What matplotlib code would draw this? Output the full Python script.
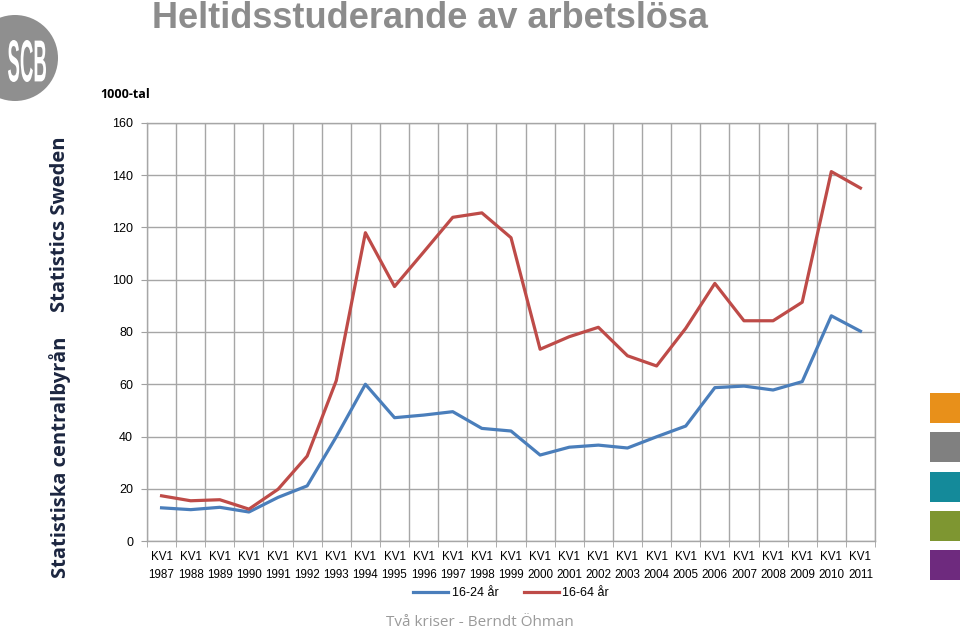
#!/usr/bin/python
'''
Heltidsstuderande av arbetslösa, 16-24 and 16-64 years, KV1 1987-2011.
'''

import numpy as np
import matplotlib
matplotlib.use('Agg')
import matplotlib.pyplot as plt
from matplotlib.patches import Circle, Rectangle, PathPatch
from matplotlib.textpath import TextPath
from matplotlib.font_manager import FontProperties
from matplotlib.transforms import Affine2D

years = list(range(1987, 2012))
quarter = 'KV1'
ung = [12.7, 12.0, 12.9, 11.1, 16.7, 21.1, 39.9, 60.0, 47.2, 48.2, 49.5, 43.1, 42.1,
       32.9, 35.9, 36.7, 35.6, 39.9, 44.0, 58.7, 59.3, 57.8, 61.0, 86.2, 80.3]
alla = [17.3, 15.4, 15.8, 12.2, 19.8, 32.5, 61.4, 118.0, 97.4, 110.6, 123.9, 125.6, 116.1,
        73.4, 78.2, 81.8, 70.9, 67.0, 81.4, 98.6, 84.3, 84.3, 91.4, 141.4, 135.1]
series_names = ['16-24 år', '16-64 år']
side_colors = ['#E8901A', '#808080', '#148A9A', '#7E9631', '#6E2A7E']

W, H = 960, 630
fig = plt.figure(figsize=(W / 100, H / 100), dpi=100)

# decoration layer in pixel coordinates (y downwards)
bg = fig.add_axes([0, 0, 1, 1])
bg.set_xlim(0, W)
bg.set_ylim(H, 0)
bg.axis('off')
bg.add_patch(Circle((15, 58), 43, color='#8f8f8f', lw=0))

# logo letters squeezed into a tall narrow box
tp = TextPath((0, 0), 'SCB', size=10, prop=FontProperties(family='Liberation Sans', weight='bold'))
ext = tp.get_extents()
box = (8, 40, 46, 82)   # x0, y0, x1, y1 in pixels
sx = (box[2] - box[0]) / ext.width
sy = (box[3] - box[1]) / ext.height
tr = Affine2D().translate(-ext.x0, -ext.y0).scale(sx, -sy).translate(box[0], box[3])
bg.add_patch(PathPatch(tr.transform_path(tp), color='white', lw=0))

bg.text(430, 18, 'Heltidsstuderande av arbetslösa', color='#8c8c8c', fontsize=26,
        fontweight='bold', ha='center', va='center', family='Liberation Sans')
bg.text(60, 578, 'Statistiska centralbyrån', rotation=90, fontsize=14.5,
        fontweight='bold', color='#1c2640', ha='center', va='bottom', family='Open Sans')
bg.text(60, 312, 'Statistics Sweden', rotation=90, fontsize=14.5,
        fontweight='bold', color='#1c2640', ha='center', va='bottom', family='Open Sans')
bg.text(100, 94, '1000-tal', fontsize=9, fontweight='bold', ha='left', va='center',
        family='Open Sans')
bg.text(480, 622, 'Två kriser - Berndt Öhman', fontsize=11, color='#9a9a9a',
        ha='center', va='center', family='Open Sans')
for i, c in enumerate(side_colors):
    bg.add_patch(Rectangle((930, 393 + i * 39.3), 30, 30, color=c, lw=0))

ax = fig.add_axes([147 / W, 1 - 541 / H, (875 - 147) / W, (541 - 123) / H])
x = np.arange(len(years))
ax.plot(x, ung, color='#4A7EBB', lw=2.3, label=series_names[0])
ax.plot(x, alla, color='#BE4B48', lw=2.3, label=series_names[1])

ax.set_xlim(-0.5, len(years) - 0.5)
ax.set_ylim(0, 160)
ax.set_yticks(range(0, 161, 20))
ax.set_xticks(x)
ax.set_xticklabels(['%s\n%d' % (quarter, y) for y in years], fontsize=8.4,
                   family='Liberation Sans', linespacing=1.75)
ax.set_xticks(np.arange(-0.5, len(years), 1), minor=True)
ax.tick_params(axis='x', which='major', length=0, pad=7)
ax.tick_params(axis='x', which='minor', length=4, color='#a0a0a0')
ax.tick_params(axis='y', length=4, color='#a0a0a0', labelsize=9, pad=6)
for lab in ax.get_yticklabels():
    lab.set_family('Liberation Sans')
ax.grid(True, which='minor', axis='x', color='#a6a6a6', lw=1)
ax.grid(True, which='major', axis='y', color='#a6a6a6', lw=1)
ax.set_axisbelow(True)
for s in ax.spines.values():
    s.set_color('#a6a6a6')
    s.set_linewidth(1)

leg = ax.legend(loc='center', bbox_to_anchor=(0.5, -0.125), ncol=2, frameon=False,
                prop={'family': 'Liberation Sans', 'size': 9},
                handlelength=2.8, columnspacing=2.0, handletextpad=0.3)

fig.savefig('out.png', dpi=100)
